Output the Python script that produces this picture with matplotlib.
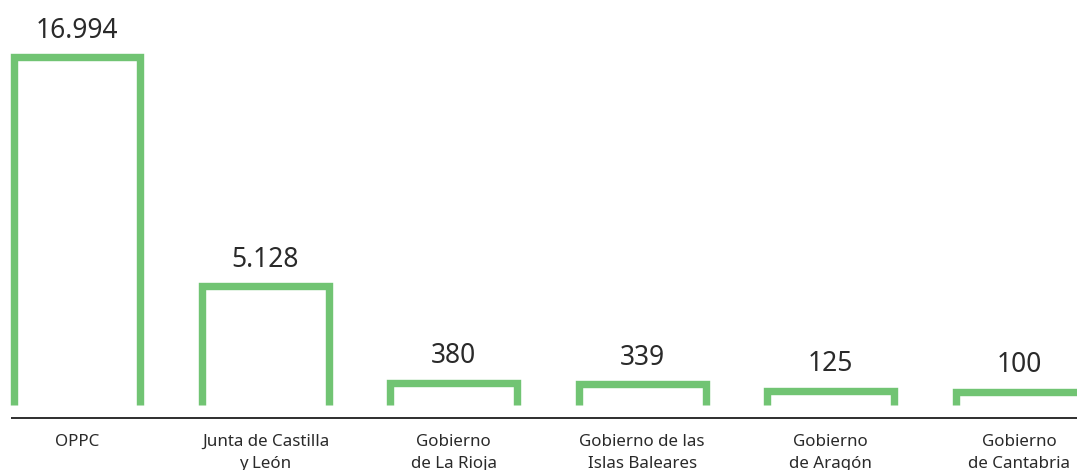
import numpy as np
import matplotlib
matplotlib.use("Agg")
import matplotlib.pyplot as plt

# ---- data ----
categories = ["OPPC", "Junta de Castilla\ny León", "Gobierno\nde La Rioja",
              "Gobierno de las\nIslas Baleares", "Gobierno\nde Aragón",
              "Gobierno\nde Cantabria"]
values = [16994, 5128, 380, 339, 125, 100]
value_labels = [f"{v:,}".replace(",", ".") for v in values]

GREEN = "#71c473"
DARK = "#2a2a2a"
FONT = ["Noto Sans", "DejaVu Sans"]

# compressed (linear + log) scale as in the designer chart
K = 125.8
def fwd(v):
    v = np.asarray(v, dtype=float)
    return v + K * np.log1p(np.clip(v, 0, None))
_grid = np.concatenate([np.linspace(-1000, 0, 50), np.geomspace(1e-3, 1e6, 4000)])
_fg = fwd(_grid)
def inv(y):
    return np.interp(y, _fg, _grid)

W, H, DPI = 1077, 470, 100
fig = plt.figure(figsize=(W / DPI, H / DPI), dpi=DPI)
ax_left_px, base_px, top_px = 12.3, 404.5, 57.0
ax = fig.add_axes([ax_left_px / W, (H - base_px) / H,
                   (W - ax_left_px) / W, (base_px - top_px) / H])
ax.set_yscale("function", functions=(fwd, inv))

pitch_px = 188.4
c0_px = 77.0
ax.set_xlim((ax_left_px - c0_px) / pitch_px, (W - c0_px) / pitch_px)
ax.set_ylim(0, max(values))

bw = 126.9 / pitch_px  # bar width between stroke centres (data units)
lw_pt = 7.4 * 72 / DPI
x = np.arange(len(values))
for xi, v, lab in zip(x, values, value_labels):
    ax.plot([xi - bw / 2, xi - bw / 2, xi + bw / 2, xi + bw / 2], [0, v, v, 0],
            color=GREEN, lw=lw_pt, solid_capstyle="butt", solid_joinstyle="miter",
            clip_on=False)
    ax.annotate(lab, xy=(xi, v), xytext=(0, 19.5 * 72 / DPI), textcoords="offset points",
                ha="center", va="baseline", fontsize=19, color=DARK, family=FONT,
                annotation_clip=False)

for xi, cat in zip(x, categories):
    ax.annotate(cat, xy=(xi, 0), xycoords=("data", "axes fraction"),
                xytext=(0, -29 * 72 / DPI), textcoords="offset points",
                ha="center", va="top", fontsize=12.2, color=DARK, family=FONT,
                linespacing=1.5, annotation_clip=False)

for s in ["top", "left", "right"]:
    ax.spines[s].set_visible(False)
ax.spines["bottom"].set_position(("outward", 13.8 * 72 / DPI))
ax.spines["bottom"].set_color("#333333")
ax.spines["bottom"].set_linewidth(2 * 72 / DPI)
ax.set_xticks([])
ax.set_yticks([])
ax.yaxis.set_minor_locator(matplotlib.ticker.NullLocator())
ax.patch.set_alpha(0)

fig.savefig("out.png", dpi=DPI)
